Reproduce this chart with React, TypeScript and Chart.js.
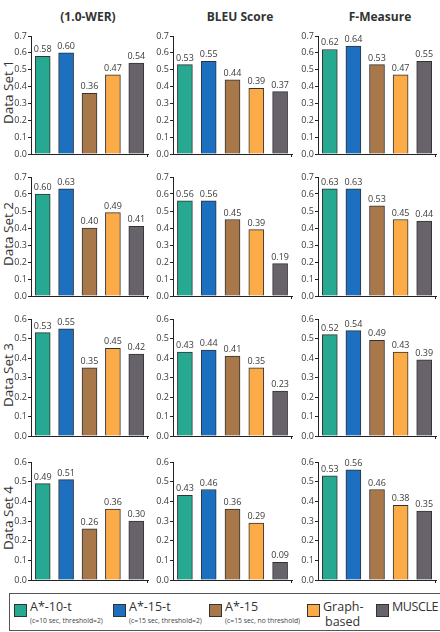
import React, { useEffect, useRef } from "react";
import { Chart, registerables } from "chart.js";

Chart.register(...registerables);

// Methods compared in every panel
const methods = ["A*-10-t", "A*-15-t", "A*-15", "Graph-based", "MUSCLE"];
const methodColors = ["#27a891", "#1d6fc0", "#a8784a", "#fbac48", "#68636a"];

// Column and row headings
const metrics = ["(1.0-WER)", "BLEU Score", "F-Measure"];
const dataSets = ["Data Set 1", "Data Set 2", "Data Set 3", "Data Set 4"];
const rowMax = [0.7, 0.7, 0.6, 0.6];

// Scores per data set: [WER, BLEU, F-Measure]
const set1Wer = [0.58, 0.6, 0.36, 0.47, 0.54];
const set1Bleu = [0.53, 0.55, 0.44, 0.39, 0.37];
const set1F = [0.62, 0.64, 0.53, 0.47, 0.55];

const set2Wer = [0.6, 0.63, 0.4, 0.49, 0.41];
const set2Bleu = [0.56, 0.56, 0.45, 0.39, 0.19];
const set2F = [0.63, 0.63, 0.53, 0.45, 0.44];

const set3Wer = [0.53, 0.55, 0.35, 0.45, 0.42];
const set3Bleu = [0.43, 0.44, 0.41, 0.35, 0.23];
const set3F = [0.52, 0.54, 0.49, 0.43, 0.39];

const set4Wer = [0.49, 0.51, 0.26, 0.36, 0.3];
const set4Bleu = [0.43, 0.46, 0.36, 0.29, 0.09];
const set4F = [0.53, 0.56, 0.46, 0.38, 0.35];

const grid = [
  [set1Wer, set1Bleu, set1F],
  [set2Wer, set2Bleu, set2F],
  [set3Wer, set3Bleu, set3F],
  [set4Wer, set4Bleu, set4F],
];

// Legend text
const legendMain = ["A*-10-t", "A*-15-t", "A*-15", "Graph-", "MUSCLE"];
const legendSecond = ["(c=10 sec, threshold=2)", "(c=15 sec, threshold=2)", "(c=15 sec, no threshold)", "based", ""];

// Plot-area placement
const colBounds = [
  [31, 148],
  [173, 292],
  [318, 436],
];
const rowBounds = [
  [36, 154],
  [177, 296],
  [319, 436],
  [462, 580],
];
const titleCenters = [88, 240, 380];

const FONT = "'Open Sans', 'Noto Sans', sans-serif";
const INK = "#3a3a3a";
const AXIS = "#222";

const valueLabels = {
  id: "valueLabels",
  afterDatasetsDraw(chart: any) {
    const ctx = chart.ctx;
    const meta = chart.getDatasetMeta(0);
    const data = chart.data.datasets[0].data as number[];
    ctx.save();
    ctx.font = `9px ${FONT}`;
    ctx.fillStyle = INK;
    ctx.textAlign = "center";
    ctx.textBaseline = "alphabetic";
    meta.data.forEach((bar: any, i: number) => {
      ctx.fillText(data[i].toFixed(2), bar.x, bar.y - 4);
    });
    ctx.restore();
  },
};

const axisHook = {
  id: "axisHook",
  afterDraw(chart: any) {
    const { ctx, chartArea } = chart;
    ctx.save();
    ctx.strokeStyle = AXIS;
    ctx.lineWidth = 1;
    ctx.beginPath();
    ctx.moveTo(chartArea.right - 0.5, chartArea.bottom);
    ctx.lineTo(chartArea.right - 0.5, chartArea.bottom + 3);
    ctx.stroke();
    ctx.restore();
  },
};

const PAD_L = 31;
const PAD_T = 12;
const PAD_R = 6;
const PAD_B = 10;

function Panel({ values, max, col, row }: { values: number[]; max: number; col: number; row: number }) {
  const ref = useRef<HTMLCanvasElement>(null);
  const [l, r] = colBounds[col];
  const [t, b] = rowBounds[row];
  const w = r - l + PAD_L + PAD_R;
  const h = b - t + PAD_T + PAD_B;

  useEffect(() => {
    const chart = new Chart(ref.current as HTMLCanvasElement, {
      type: "bar",
      data: {
        labels: methods,
        datasets: [
          {
            data: values,
            backgroundColor: methodColors,
            borderColor: "#333",
            borderWidth: 1,
            barThickness: 15,
          },
        ],
      },
      options: {
        animation: false,
        responsive: false,
        maintainAspectRatio: false,
        layout: { padding: { top: PAD_T, right: PAD_R, bottom: PAD_B, left: 0 } },
        plugins: { legend: { display: false }, tooltip: { enabled: false } },
        scales: {
          x: {
            grid: { display: false, drawTicks: false },
            border: { display: true, color: AXIS, width: 1 },
            ticks: { display: false },
            afterFit: (s: any) => {
              s.height = 0;
            },
          },
          y: {
            min: 0,
            max,
            grid: { drawOnChartArea: false, drawTicks: true, tickLength: 3, color: AXIS },
            border: { display: true, color: AXIS, width: 1 },
            ticks: {
              stepSize: 0.1,
              padding: 1,
              color: INK,
              font: { family: FONT, size: 9 },
              callback: (v: any) => Number(v).toFixed(1),
            },
            afterFit: (s: any) => {
              s.width = PAD_L;
            },
          },
        },
      } as any,
      plugins: [valueLabels, axisHook],
    });
    return () => chart.destroy();
  }, []);

  return (
    <canvas
      ref={ref}
      width={w}
      height={h}
      style={{ position: "absolute", left: l - PAD_L, top: t - PAD_T, width: w, height: h }}
    />
  );
}

const legendSwatchX = [14, 113, 209, 307, 376];

export default function App() {
  useEffect(() => {
    document.body.style.overflow = "hidden";
  }, []);

  return (
    <div style={{ fontFamily: FONT, color: INK }}>
      {metrics.map((m, i) => (
        <div
          key={m}
          style={{
            position: "absolute",
            left: titleCenters[i] - 60,
            width: 120,
            top: 9,
            textAlign: "center",
            fontWeight: 700,
            fontSize: 12,
            lineHeight: "16px",
            color: "#333",
          }}
        >
          {m}
        </div>
      ))}

      {dataSets.map((d, i) => {
        const cy = (rowBounds[i][0] + rowBounds[i][1]) / 2 - 3;
        return (
          <div
            key={d}
            style={{
              position: "absolute",
              left: 8 - 40,
              top: cy - 10,
              width: 80,
              height: 20,
              lineHeight: "20px",
              textAlign: "center",
              fontSize: 13.5,
              transform: "rotate(-90deg)",
              color: "#333",
              whiteSpace: "nowrap",
            }}
          >
            {d}
          </div>
        );
      })}

      {grid.map((rowVals, ri) =>
        rowVals.map((vals, ci) => (
          <Panel key={`${ri}-${ci}`} values={vals} max={rowMax[ri]} col={ci} row={ri} />
        ))
      )}

      <div
        style={{
          position: "absolute",
          left: 9,
          top: 593,
          width: 434,
          height: 38,
          boxSizing: "border-box",
          border: "1.5px solid #555",
        }}
      />
      {methods.map((m, i) => (
        <React.Fragment key={m}>
          <div
            style={{
              position: "absolute",
              left: legendSwatchX[i],
              top: 604,
              width: 13,
              height: 13,
              boxSizing: "border-box",
              background: methodColors[i],
              border: "1px solid #333",
            }}
          />
          <div
            style={{
              position: "absolute",
              left: legendSwatchX[i] + 16,
              top: 599,
              fontSize: 12.5,
              letterSpacing: i === 4 ? -0.4 : 0,
              lineHeight: "16px",
              whiteSpace: "nowrap",
              color: "#333",
            }}
          >
            {legendMain[i]}
          </div>
          {legendSecond[i] &&
            (i === 3 ? (
              <div
                style={{
                  position: "absolute",
                  left: legendSwatchX[i] + 18,
                  top: 614,
                  fontSize: 12.5,
                  lineHeight: "16px",
                  whiteSpace: "nowrap",
                  color: "#333",
                }}
              >
                {legendSecond[i]}
              </div>
            ) : (
              <div
                style={{
                  position: "absolute",
                  left: legendSwatchX[i] + 16,
                  top: 616,
                  fontSize: 6.8,
                  lineHeight: "10px",
                  whiteSpace: "nowrap",
                  color: "#444",
                }}
              >
                {legendSecond[i]}
              </div>
            ))}
        </React.Fragment>
      ))}
    </div>
  );
}
